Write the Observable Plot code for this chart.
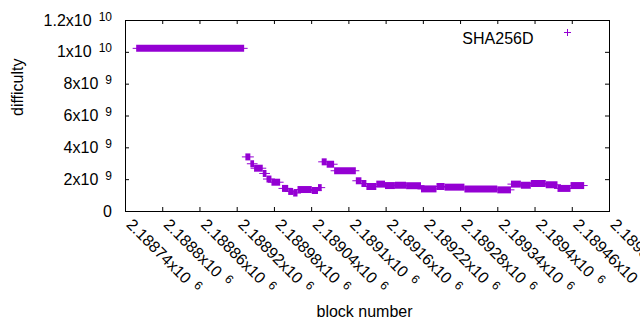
<!DOCTYPE html>
<html>
<head>
<meta charset="utf-8">
<script src="https://cdn.jsdelivr.net/npm/d3@7"></script>
<script src="https://cdn.jsdelivr.net/npm/@observablehq/plot@0.6"></script>
<style>
  html, body { margin: 0; padding: 0; background: #fff; }
  svg text { font-family: "Liberation Sans", Arial, sans-serif; }
</style>
</head>
<body>
<div id="chart"></div>
<script>
// ---- data (block ranges with constant difficulty, difficulty in units of 1e9) ----
const segStart = [2188758, 2188934, 2188942, 2188948, 2188962, 2188968, 2188976, 2188993, 2189003, 2189011,
                  2189018, 2189041, 2189051, 2189057, 2189065, 2189077, 2189112, 2189121, 2189129, 2189145,
                  2189159, 2189175, 2189193, 2189217, 2189242, 2189255, 2189287, 2189340, 2189362, 2189378,
                  2189394, 2189418, 2189437, 2189458];
const segEnd   = [2188932, 2188942, 2188948, 2188962, 2188968, 2188976, 2188990, 2189003, 2189011, 2189018,
                  2189041, 2189051, 2189057, 2189065, 2189077, 2189112, 2189121, 2189129, 2189145, 2189159,
                  2189175, 2189193, 2189217, 2189242, 2189255, 2189287, 2189340, 2189362, 2189378, 2189394,
                  2189418, 2189437, 2189458, 2189480];
const segDiff  = [10.25, 3.43, 3.0, 2.72, 2.39, 2.04, 1.84, 1.45, 1.26, 1.16,
                  1.38, 1.32, 1.5, 3.12, 2.97, 2.56, 1.93, 1.76, 1.57, 1.72,
                  1.63, 1.65, 1.62, 1.42, 1.57, 1.53, 1.42, 1.36, 1.72, 1.65,
                  1.76, 1.68, 1.45, 1.63];
const seriesName = "SHA256D";

// ---- ticks ----
const xTicks = [2188740, 2188800, 2188860, 2188920, 2188980, 2189040, 2189100, 2189160,
                2189220, 2189280, 2189340, 2189400, 2189460, 2189520];
const xTickMant = ["2.18874", "2.1888", "2.18886", "2.18892", "2.18898", "2.18904", "2.1891",
                   "2.18916", "2.18922", "2.18928", "2.18934", "2.1894", "2.18946", "2.18952"];
const xTickExp = "6";
const yTicks = [0, 2e9, 4e9, 6e9, 8e9, 1e10, 1.2e10];
const yTickMant = ["0", "2", "4", "6", "8", "1", "1.2"];
const yTickExp = ["", "9", "9", "9", "9", "10", "10"];

const segments = segStart.map((s, i) => ({x1: s, x2: segEnd[i], y: segDiff[i] * 1e9}));
const color = "#9400d3";
const W = 640, H = 330, mL = 125, mR = 31, mT = 20, mB = 119;
const plotH = H - mT - mB, plotW = W - mL - mR, tick = 4;
const fs = 16;

const chart = Plot.plot({
  width: W, height: H,
  marginLeft: mL, marginRight: mR, marginTop: mT, marginBottom: mB,
  style: {fontFamily: '"Liberation Sans", Arial, sans-serif', color: "#000", background: "#fff"},
  x: {domain: [2188740, 2189520], axis: null},
  y: {domain: [0, 1.2e10], axis: null},
  marks: [
    // data: thick band = dense vertical arms of plus markers
    Plot.ruleY(segments, {y: "y", x1: "x1", x2: "x2", stroke: color, strokeWidth: 7}),
    // horizontal arms of the end markers
    Plot.ruleY(segments, {y: "y", x1: "x1", x2: "x2", stroke: color, strokeWidth: 1, insetLeft: -3.5, insetRight: -3.5}),
    // ticks (inward, mirrored)
    Plot.ruleX(xTicks, {x: d => d, stroke: "#000", insetTop: plotH - tick}),
    Plot.ruleX(xTicks, {x: d => d, stroke: "#000", insetBottom: plotH - tick}),
    Plot.ruleY(yTicks, {y: d => d, stroke: "#000", insetRight: plotW - tick}),
    Plot.ruleY(yTicks, {y: d => d, stroke: "#000", insetLeft: plotW - tick}),
    Plot.frame({stroke: "#000"}),
    // y tick labels
    Plot.text(yTicks, {y: d => d, frameAnchor: "left", textAnchor: "end", dx: -13.5, fontSize: fs, fill: "#000",
      text: (d, i) => yTickExp[i] ? yTickMant[i] + "x10^" + yTickExp[i] : yTickMant[i]}),
    // x tick labels (rotated)
    Plot.text(xTicks, {x: d => d, frameAnchor: "bottom", textAnchor: "start", rotate: 45, dx: 0, dy: 14,
      fontSize: fs, fill: "#000", text: (d, i) => xTickMant[i] + "x10^" + xTickExp}),
    // axis labels
    Plot.text(["difficulty"], {frameAnchor: "left", dx: -107.5, rotate: -90, fontSize: fs, fill: "#000"}),
    Plot.text(["block number"], {frameAnchor: "bottom", dx: -3, dy: 105, fontSize: fs, fill: "#000"}),
    // legend
    Plot.text([seriesName], {frameAnchor: "top-right", textAnchor: "end", dx: -76, dy: 12, fontSize: fs, fill: "#000"}),
    Plot.dot([seriesName], {frameAnchor: "top-right", dx: -42, dy: 12, symbol: "plus", r: 2.4, stroke: color, strokeWidth: 1})
  ]
});

// render exponents as superscripts
d3.select(chart).selectAll("text").each(function () {
  const t = this.textContent;
  if (t && t.includes("^")) {
    const [base, exp] = t.split("^");
    this.textContent = base;
    const ts = document.createElementNS("http://www.w3.org/2000/svg", "tspan");
    ts.setAttribute("dx", "7");
    ts.setAttribute("dy", "-5");
    ts.setAttribute("font-size", "12");
    ts.textContent = exp;
    this.appendChild(ts);
  }
});

document.getElementById("chart").appendChild(chart);
</script>
</body>
</html>
